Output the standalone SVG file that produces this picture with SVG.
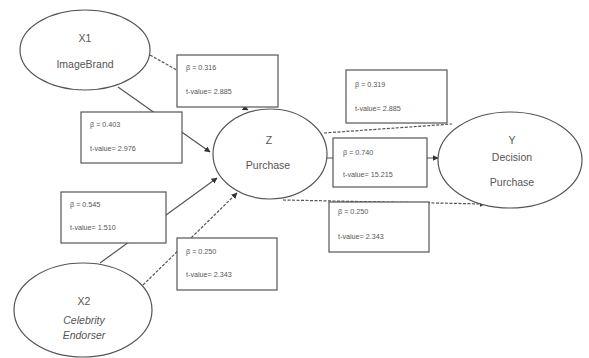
<svg xmlns="http://www.w3.org/2000/svg" width="589" height="358" viewBox="0 0 589 358">
<style>
.n{fill:#fff;stroke:#555;stroke-width:1.2}
.b{fill:#fff;stroke:#555;stroke-width:1.2}
.l{fill:none;stroke:#555;stroke-width:1.2}
.d{fill:none;stroke:#555;stroke-width:1.2;stroke-dasharray:3 1.5}
.t{font-family:"Liberation Sans",Arial,sans-serif;font-size:10.5px;fill:#555;text-anchor:middle}
.s{font-family:"Liberation Sans",Arial,sans-serif;font-size:7.2px;fill:#555}
</style>
<defs>
<marker id="a" viewBox="0 0 10 10" refX="9" refY="5" markerWidth="5" markerHeight="5" orient="auto">
<path d="M0,0L10,5L0,10z" fill="#333"/>
</marker>
</defs>
<g id="connectors">
<line class="d" x1="150" y1="55" x2="248" y2="110" marker-end="url(#a)"/>
<line class="l" x1="118" y1="87" x2="210" y2="152" marker-end="url(#a)"/>
<line class="l" x1="100" y1="263" x2="217" y2="178" marker-end="url(#a)"/>
<line class="d" x1="143" y1="285" x2="237" y2="193" marker-end="url(#a)"/>
<line class="l" x1="327" y1="158" x2="438" y2="158" marker-end="url(#a)"/>
<line class="d" x1="324" y1="133" x2="452" y2="124"/>
<line class="d" x1="283" y1="200" x2="485" y2="204" marker-end="url(#a)"/>
</g>
<g id="X1"><ellipse class="n" cx="85" cy="50" rx="65" ry="40"/><text class="t" x="85" y="42">X1</text><text class="t" x="85" y="68">ImageBrand</text></g>
<g id="X2"><ellipse class="n" cx="83" cy="310" rx="69" ry="47"/><text class="t" x="84" y="305">X2</text><text class="t" x="84" y="324" font-style="italic">Celebrity</text><text class="t" x="84" y="339" font-style="italic">Endorser</text></g>
<g id="Z"><ellipse class="n" cx="270" cy="154" rx="57" ry="45"/><text class="t" x="269" y="144">Z</text><text class="t" x="268" y="169">Purchase</text></g>
<g id="Y"><ellipse class="n" cx="510" cy="160" rx="72" ry="48"/><text class="t" x="512" y="144">Y</text><text class="t" x="512" y="161">Decision</text><text class="t" x="512" y="186" font-size="11.5px">Purchase</text></g>
<g id="b1"><rect class="b" x="177" y="55" width="101" height="52"/><text class="s" x="186" y="70">β = 0.316</text><text class="s" x="186" y="94">t-value= 2.885</text></g>
<g id="b2"><rect class="b" x="81" y="112" width="101" height="51"/><text class="s" x="90" y="127">β = 0.403</text><text class="s" x="90" y="151">t-value= 2.976</text></g>
<g id="b3"><rect class="b" x="346" y="70" width="101" height="53"/><text class="s" x="355" y="87">β = 0.319</text><text class="s" x="355" y="111">t-value= 2.885</text></g>
<g id="b4"><rect class="b" x="333" y="138" width="94" height="49"/><text class="s" x="343" y="155">β = 0.740</text><text class="s" x="343" y="177">t-value= 15.215</text></g>
<g id="b5"><rect class="b" x="329" y="202" width="100" height="50"/><text class="s" x="338" y="214">β = 0.250</text><text class="s" x="338" y="239">t-value= 2.343</text></g>
<g id="b6"><rect class="b" x="61" y="192" width="105" height="51"/><text class="s" x="70" y="207">β = 0.545</text><text class="s" x="70" y="230">t-value= 1.510</text></g>
<g id="b7"><rect class="b" x="177" y="238" width="100" height="52"/><text class="s" x="186" y="254">β = 0.250</text><text class="s" x="186" y="277">t-value= 2.343</text></g>
</svg>
